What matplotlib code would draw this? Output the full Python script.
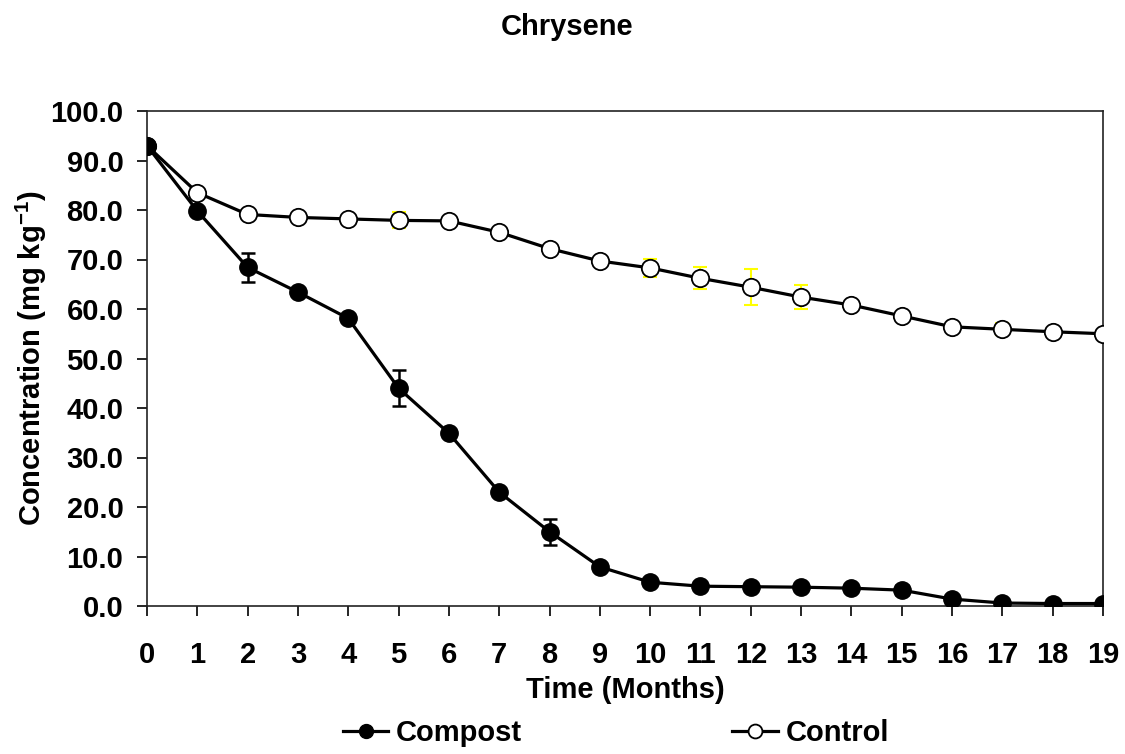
import matplotlib
matplotlib.use("Agg")
import matplotlib.pyplot as plt
from matplotlib.lines import Line2D

plt.rcParams['font.family'] = ['Liberation Sans', 'DejaVu Sans']
plt.rcParams['font.weight'] = 'bold'
plt.rcParams['mathtext.fontset'] = 'custom'
plt.rcParams['mathtext.rm'] = 'Liberation Sans:bold'
plt.rcParams['mathtext.bf'] = 'Liberation Sans:bold'

months = list(range(20))
compost = [93.0, 79.8, 68.4, 63.4, 58.1, 44.0, 34.9, 23.0, 15.0, 7.9,
           4.8, 4.0, 3.9, 3.8, 3.6, 3.2, 1.4, 0.6, 0.5, 0.5]
compost_err = [0, 0, 3.0, 0, 0, 3.6, 0, 0, 2.6, 0,
               0, 0, 0, 0, 0, 1.0, 0, 0, 0, 0]
control = [93.0, 83.5, 79.1, 78.5, 78.2, 77.9, 77.8, 75.5, 72.2, 69.7,
           68.3, 66.2, 64.4, 62.4, 60.8, 58.6, 56.4, 55.9, 55.4, 55.0]
control_err = [0, 0, 0, 0, 0, 1.6, 0, 0, 0, 0,
               1.8, 2.2, 3.6, 2.4, 0, 0, 0, 1.2, 0, 0]
yticks = [0, 10, 20, 30, 40, 50, 60, 70, 80, 90, 100]

fig = plt.figure(figsize=(11.25, 7.54), dpi=100)
ax = fig.add_axes([147/1125, 1-606/754, (1103-147)/1125, (606-111)/754])

ax.errorbar(months, control, yerr=control_err, fmt='none', ecolor='#FFFF00',
            elinewidth=1.5, capsize=5, capthick=1.5, zorder=2)
ax.plot(months, control, '-', color='black', lw=2.3, marker='o', ms=12.5,
        mfc='white', mec='black', mew=1.3, zorder=3, label='Control')
ax.errorbar(months, compost, yerr=compost_err, fmt='none', ecolor='black',
            elinewidth=1.8, capsize=5, capthick=1.8, zorder=4)
ax.plot(months, compost, '-', color='black', lw=2.3, marker='o', ms=12.5,
        mfc='black', mec='black', mew=1.0, zorder=5, label='Compost')

ax.set_xlim(0, 19)
ax.set_ylim(0, 100)
ax.set_xticks(months)
ax.set_xticklabels([str(m) for m in months])
ax.set_yticks(yticks)
ax.set_yticklabels([f"{v:.1f}" for v in yticks])
ax.tick_params(axis='both', direction='out', length=7, width=1.2,
               labelsize=21, colors='black')
ax.tick_params(axis='x', pad=18)
ax.tick_params(axis='y', pad=10)
for s in ax.spines.values():
    s.set_linewidth(1.2)
    s.set_color('#222222')

ax.set_xlabel('Time (Months)', fontsize=21, fontweight='bold', labelpad=5)
ax.set_ylabel(r'Concentration (mg kg$^{-1}$)', fontsize=21, fontweight='bold', labelpad=1)
fig.text(567/1125, 1-27/754, 'Chrysene', ha='center', va='center',
         fontsize=21, fontweight='bold')

h1 = Line2D([], [], color='black', lw=2.3, marker='o', ms=10, mfc='black', mec='black')
h2 = Line2D([], [], color='black', lw=2.3, marker='o', ms=10, mfc='white', mec='black', mew=1.3)
fig.legend([h1, h2], ['Compost', 'Control'], loc='center', ncol=2,
           bbox_to_anchor=(616/1125, 1-733/754), frameon=False,
           handlelength=1.55, handletextpad=0.27, columnspacing=7.2,
           borderaxespad=0, borderpad=0,
           prop={'weight': 'bold', 'size': 21})

fig.savefig('out.png', dpi=100)
